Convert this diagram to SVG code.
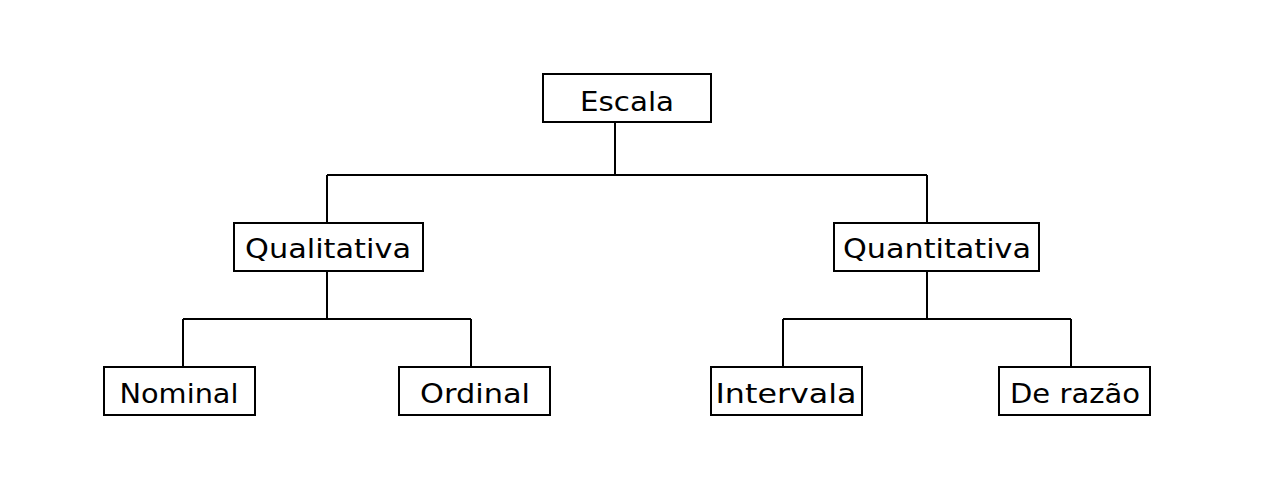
<svg xmlns="http://www.w3.org/2000/svg" width="1280" height="500" viewBox="0 0 1280 500">
<style>
.box{fill:#fff;stroke:#000;stroke-width:2}
.lbl{font-family:"DejaVu Sans","Liberation Sans",sans-serif;font-size:27px;fill:#000;text-anchor:middle}
.conn{fill:none;stroke:#000;stroke-width:2}
</style>
<rect width="1280" height="500" fill="#fff"/>
<g id="connectors" class="conn">
<path d="M615,122 V175 M327,175 H927 M327,175 V223 M927,175 V223"/>
<path d="M327,271 V319 M183,319 H471 M183,319 V367 M471,319 V367"/>
<path d="M927,271 V319 M783,319 H1071 M783,319 V367 M1071,319 V367"/>
</g>
<g id="escala"><rect class="box" x="543" y="74" width="168" height="48"/><text class="lbl" x="627" y="111" textLength="94" lengthAdjust="spacingAndGlyphs">Escala</text></g>
<g id="qualitativa"><rect class="box" x="234" y="223" width="189" height="48"/><text class="lbl" x="328" y="258" textLength="166" lengthAdjust="spacingAndGlyphs">Qualitativa</text></g>
<g id="quantitativa"><rect class="box" x="834" y="223" width="205" height="48"/><text class="lbl" x="937" y="258" textLength="188" lengthAdjust="spacingAndGlyphs">Quantitativa</text></g>
<g id="nominal"><rect class="box" x="104" y="367" width="151" height="48"/><text class="lbl" x="179" y="403" textLength="119" lengthAdjust="spacingAndGlyphs">Nominal</text></g>
<g id="ordinal"><rect class="box" x="399" y="367" width="151" height="48"/><text class="lbl" x="475" y="403" textLength="110" lengthAdjust="spacingAndGlyphs">Ordinal</text></g>
<g id="intervala"><rect class="box" x="711" y="367" width="151" height="48"/><text class="lbl" x="786" y="403" textLength="141" lengthAdjust="spacingAndGlyphs">Intervala</text></g>
<g id="derazao"><rect class="box" x="999" y="367" width="151" height="48"/><text class="lbl" x="1075" y="403" textLength="130" lengthAdjust="spacingAndGlyphs">De razão</text></g>
</svg>
